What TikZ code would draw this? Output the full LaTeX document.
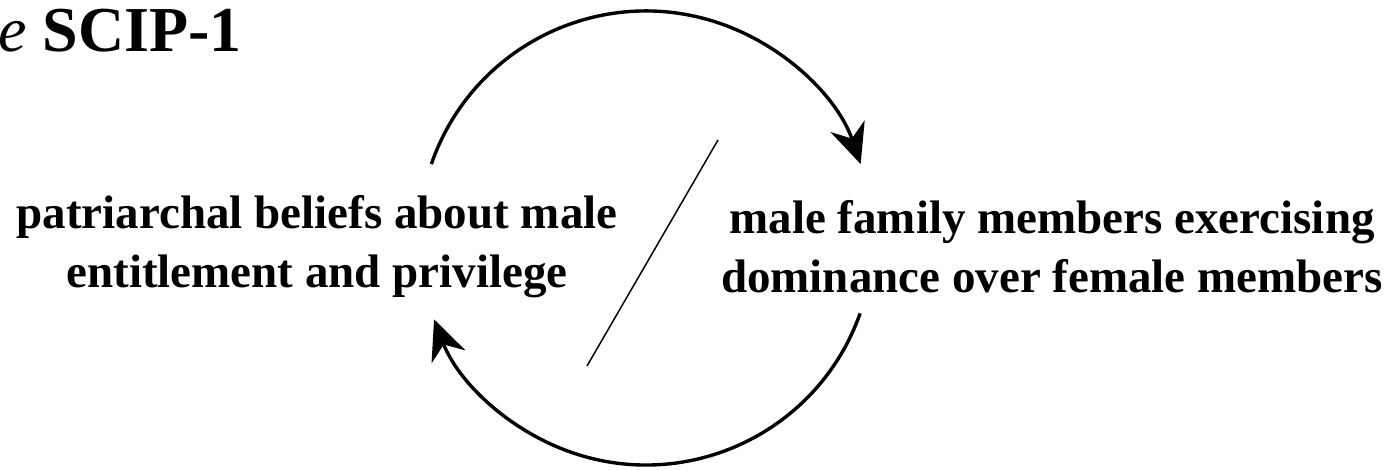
\documentclass[tikz,border=0pt]{standalone}
\usepackage{fontspec}
\setmainfont{Liberation Serif}
\usetikzlibrary{arrows.meta}
\begin{document}
\begin{tikzpicture}[x=1pt,y=1pt,
  label/.style={font=\fontsize{47}{59}\selectfont\bfseries, align=center, inner sep=0pt},
  cyc/.style={line width=3.4pt, -{Stealth[length=40pt,width=36pt,inset=13pt]}}]
\useasboundingbox (0,0) rectangle (1398,470);
\node[anchor=base west, inner sep=0pt] (title) at (-2,418) {\fontsize{64}{70}\selectfont\textit{e} \textbf{SCIP-1}};
\node[label] (left) at (317,223) {patriarchal beliefs about male\\entitlement and privilege};
\node[label] (right) at (1052,223) {male family members exercising\\dominance over female members};
\coordinate (c) at (646,232);
\draw[cyc] (c) ++(161:227) arc[start angle=161, end angle=19, radius=227];
\draw[cyc] (c) ++(-19.4:227) arc[start angle=-19.4, end angle=-159, radius=227];
\coordinate (s1) at (718,330);
\coordinate (s2) at (587,104);
\draw[line width=1.5pt] (s1) -- (s2);
\end{tikzpicture}
\end{document}
